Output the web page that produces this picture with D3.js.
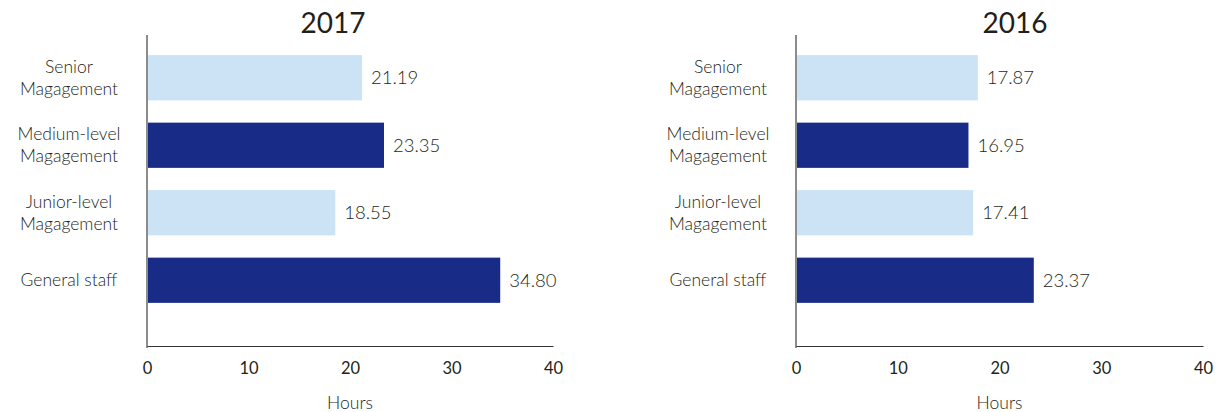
<!DOCTYPE html>
<html>
<head>
<meta charset="utf-8">
<script src="https://cdn.jsdelivr.net/npm/d3@7"></script>
<style>
  html, body { margin: 0; padding: 0; background: #fff; }
  svg { display: block; font-family: Lato, "Open Sans", sans-serif; }
</style>
</head>
<body>
<div id="chart"></div>
<script>
// data
const categories = [['Senior', 'Magagement'], ['Medium-level', 'Magagement'], ['Junior-level', 'Magagement'], ['General staff']];
const hours2017 = [21.19, 23.35, 18.55, 34.80];
const hours2016 = [17.87, 16.95, 17.41, 23.37];
const xTicks = [0, 10, 20, 30, 40];
const barColors = ['#cce3f5', '#182b87', '#cce3f5', '#182b87'];

const W = 1223, H = 412;
const svg = d3.select('#chart').append('svg').attr('width', W).attr('height', H);

// one panel per year
const panels = [
  { title: '2017', values: hours2017, x0: 147, x1: 553, titleX: 333 },
  { title: '2016', values: hours2016, x0: 796, x1: 1203, titleX: 1015 },
];

const yTop = 35, yBase = 346;
const keys = categories.map((d, i) => i);
const y = d3.scaleBand().domain(keys).range([44, 314]).paddingInner(0.33).paddingOuter(0.165);

panels.forEach(p => {
  const g = svg.append('g');
  const x = d3.scaleLinear().domain([0, 40]).range([p.x0, p.x1]);

  g.append('text').attr('x', p.titleX).attr('y', 33).attr('text-anchor', 'middle')
    .style('font-size', '28px').style('font-weight', 400).style('fill', '#231f20').text(p.title);

  // bars
  g.selectAll('rect.bar').data(p.values).join('rect').attr('class', 'bar')
    .attr('x', x(0) + 1).attr('y', (d, i) => y(i))
    .attr('width', d => x(d) - x(0) - 1).attr('height', y.bandwidth())
    .attr('fill', (d, i) => barColors[i]);

  // value labels
  g.selectAll('text.val').data(p.values).join('text').attr('class', 'val')
    .attr('x', d => x(d) + 9).attr('y', (d, i) => y(i) + y.bandwidth() / 2)
    .attr('dy', '0.35em').style('font-size', '18.5px').style('font-weight', 300).style('fill', '#231f20')
    .text(d => d.toFixed(2));

  // category labels
  const cl = g.selectAll('text.cat').data(categories).join('text').attr('class', 'cat')
    .attr('text-anchor', 'middle').style('font-size', '17.5px').style('font-weight', 300).style('fill', '#231f20');
  cl.each(function (lines, i) {
    const cy = y(i) + y.bandwidth() / 2;
    d3.select(this).selectAll('tspan').data(lines).join('tspan')
      .attr('x', p.x0 - 78)
      .attr('y', (l, j) => cy + (j - (lines.length - 1) / 2) * 22)
      .attr('dy', '0.35em').text(l => l);
  });

  // axes
  g.append('line').attr('x1', p.x0).attr('x2', p.x0).attr('y1', yTop).attr('y2', yBase + 2)
    .attr('stroke', '#666').attr('stroke-width', 1.5);
  const ax = g.append('g').attr('transform', `translate(0,${yBase})`)
    .call(d3.axisBottom(x).tickValues(xTicks).tickSize(0).tickPadding(16));
  ax.select('.domain').attr('stroke', '#333').attr('stroke-width', 1.2);
  ax.selectAll('text').style('font-size', '16.5px').style('fill', '#231f20')
    .style('font-family', 'Lato, "Open Sans", sans-serif');

  g.append('text').attr('x', (p.x0 + p.x1) / 2).attr('y', 403).attr('dy', '0.35em')
    .attr('text-anchor', 'middle').style('font-size', '17.5px').style('font-weight', 300)
    .style('fill', '#231f20').text('Hours');
});
</script>
</body>
</html>
